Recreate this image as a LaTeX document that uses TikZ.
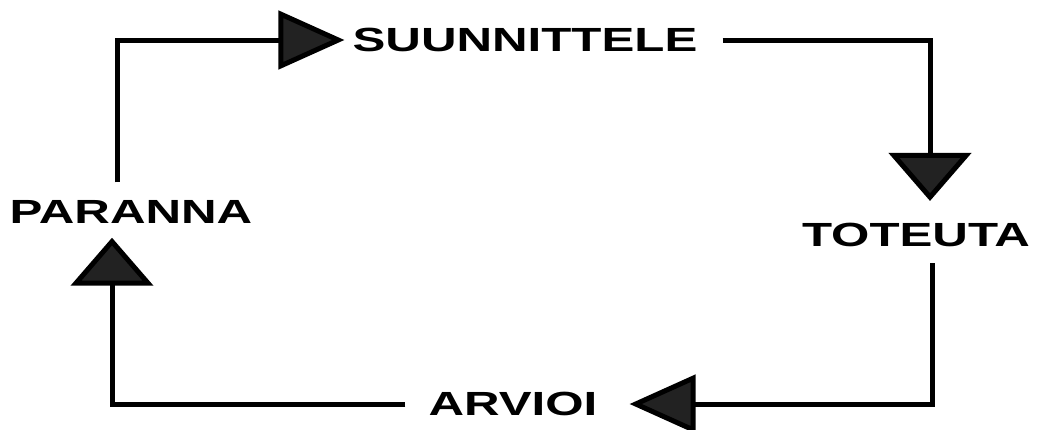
\documentclass[tikz,border=0pt]{standalone}
\usepackage{fontspec}
\newfontfamily\lab[FakeStretch=1.47]{Liberation Sans}
\usetikzlibrary{arrows.meta}
\definecolor{tipfill}{RGB}{34,34,34}
\tikzset{
  lbl/.style={inner sep=0pt, font=\lab\bfseries\fontsize{33.5}{36}\selectfont, text=black},
  lnk/.style={draw=black, line width=5pt, line join=miter},
  htip/.style={-{Triangle[length=66pt,width=58pt,fill=tipfill]}},
  vtip/.style={-{Triangle[length=48pt,width=82pt,fill=tipfill]}}
}
\begin{document}
\begin{tikzpicture}[x=1pt,y=-1pt]
\useasboundingbox (0,0) rectangle (1038,429);
\node[lbl] (su) at (525,40) {SUUNNITTELE};
\node[lbl] (to) at (916,235) {TOTEUTA};
\node[lbl] (ar) at (513,404) {ARVIOI};
\node[lbl] (pa) at (131,212) {PARANNA};
\draw[lnk,htip] ([xshift=-14pt,yshift=18pt]pa.north) |- ([xshift=-8pt]su.west);
\draw[lnk,vtip] ([xshift=25pt]su.east) -| ([xshift=14pt,yshift=22pt]to.north);
\draw[lnk,htip] ([xshift=16pt,yshift=-16pt]to.south) |- ([xshift=32pt]ar.east);
\draw[lnk,vtip] ([xshift=-23pt]ar.west) -| ([xshift=-19pt,yshift=-14pt]pa.south);
\end{tikzpicture}
\end{document}
